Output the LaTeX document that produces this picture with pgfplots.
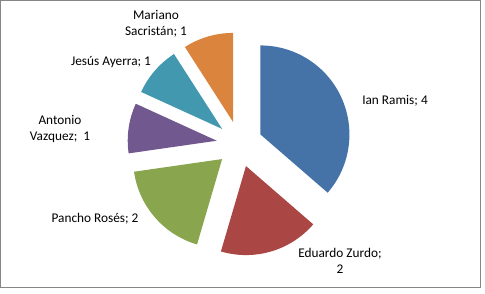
\documentclass[border=0pt]{standalone}
\usepackage{pgfplots}
\pgfplotsset{compat=1.18}
\usepackage{fontspec}
\setmainfont{Carlito}
\definecolor{cA}{RGB}{69,114,167}
\definecolor{cB}{RGB}{170,70,67}
\definecolor{cC}{RGB}{137,165,78}
\definecolor{cD}{RGB}{113,88,143}
\definecolor{cE}{RGB}{65,152,175}
\definecolor{cF}{RGB}{219,132,61}
\definecolor{frame}{RGB}{134,134,134}
% pie values: Ian Ramis 4, Eduardo Zurdo 2, Pancho Rosés 2, Antonio Vazquez 1, Jesús Ayerra 1, Mariano Sacristán 1 (total 11)
\newcommand\wedgedef[3]{%
 \pgfmathsetmacro\tmpS{360*#2/11}%
 \pgfmathsetmacro\tmpE{360*(#2+#3)/11}%
 \pgfmathsetmacro\tmpX{239.5+23*sin((\tmpS+\tmpE)/2)}%
 \pgfmathsetmacro\tmpY{150+23*cos((\tmpS+\tmpE)/2)}%
 \expandafter\xdef\csname ws#1\endcsname{\tmpS}%
 \expandafter\xdef\csname we#1\endcsname{\tmpE}%
 \expandafter\xdef\csname wx#1\endcsname{\tmpX}%
 \expandafter\xdef\csname wy#1\endcsname{\tmpY}%
}
\begin{document}
\begin{tikzpicture}
\wedgedef{A}{0}{4}
\wedgedef{B}{4}{2}
\wedgedef{C}{6}{2}
\wedgedef{D}{8}{1}
\wedgedef{E}{9}{1}
\wedgedef{F}{10}{1}
\begin{axis}[width=485pt,height=294pt,scale only axis,
  xmin=0,xmax=485,ymin=0,ymax=294,axis lines=none,ticks=none,clip=false]
\path (axis cs:0,0) rectangle (axis cs:485,294);
\draw[frame,line width=1pt] (axis cs:0.5,293.5) rectangle (axis cs:480.5,6.5);
\addplot[fill=cA,draw=none,domain=\wsA:\weA,samples=90,variable=\t] ({\wxA+89*sin(\t)},{\wyA+89*cos(\t)}) -- (axis cs:\wxA,\wyA) -- cycle;
\addplot[fill=cB,draw=none,domain=\wsB:\weB,samples=60,variable=\t] ({\wxB+89*sin(\t)},{\wyB+89*cos(\t)}) -- (axis cs:\wxB,\wyB) -- cycle;
\addplot[fill=cC,draw=none,domain=\wsC:\weC,samples=60,variable=\t] ({\wxC+89*sin(\t)},{\wyC+89*cos(\t)}) -- (axis cs:\wxC,\wyC) -- cycle;
\addplot[fill=cD,draw=none,domain=\wsD:\weD,samples=40,variable=\t] ({\wxD+89*sin(\t)},{\wyD+89*cos(\t)}) -- (axis cs:\wxD,\wyD) -- cycle;
\addplot[fill=cE,draw=none,domain=\wsE:\weE,samples=40,variable=\t] ({\wxE+89*sin(\t)},{\wyE+89*cos(\t)}) -- (axis cs:\wxE,\wyE) -- cycle;
\addplot[fill=cF,draw=none,domain=\wsF:\weF,samples=40,variable=\t] ({\wxF+89*sin(\t)},{\wyF+89*cos(\t)}) -- (axis cs:\wxF,\wyF) -- cycle;
\tikzset{lab/.style={align=center,inner sep=0pt,font=\fontsize{13.3}{16}\selectfont}}
\node[lab] at (axis cs:395,193) {Ian Ramis; 4};
\node[lab] at (axis cs:340,33) {Eduardo Zurdo;\\2};
\node[lab] at (axis cs:95,75) {Pancho Rosés; 2};
\node[lab] at (axis cs:60,165) {Antonio\\Vazquez;\ \ 1};
\node[lab] at (axis cs:111,232) {Jesús Ayerra; 1};
\node[lab] at (axis cs:156,270) {Mariano\\Sacristán; 1};
\end{axis}
\end{tikzpicture}
\end{document}
